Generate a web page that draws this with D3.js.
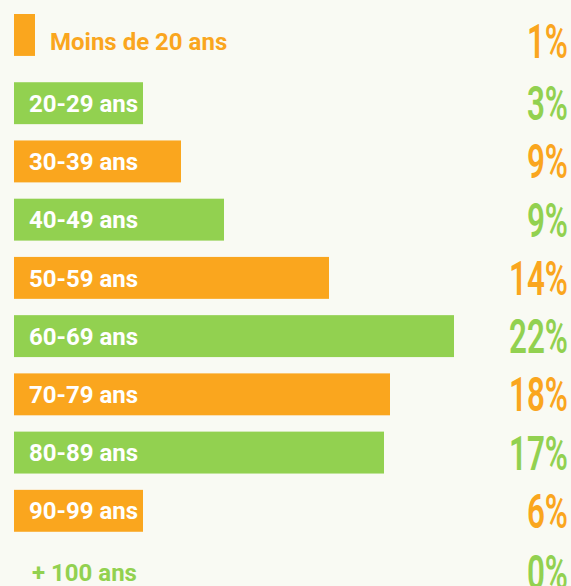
<!DOCTYPE html>
<html>
<head>
<meta charset="utf-8">
<script src="https://cdn.jsdelivr.net/npm/d3@7"></script>
<style>
    html, body { margin: 0; padding: 0; background: #f9faf3; }
    svg { display: block; }
</style>
</head>
<body>
<script>
// age groups, top to bottom
let categories = ["Moins de 20 ans", "20-29 ans", "30-39 ans", "40-49 ans", "50-59 ans",
    "60-69 ans", "70-79 ans", "80-89 ans", "90-99 ans", "+ 100 ans"];

// share printed on the right (%)
let shares = [1, 3, 9, 9, 14, 22, 18, 17, 6, 0];

// bar lengths as drawn in the original, in the same % units (not strictly proportional to the labels)
let barLengths = [1.05, 6.45, 8.35, 10.5, 15.75, 22, 18.8, 18.5, 6.45, 0];

let palette = ["#faa61e", "#92d150"];

let width = 571, height = 586;

let svg = d3.select("body").append("svg")
    .attr("width", width)
    .attr("height", height);

svg.append("rect")
    .attr("width", width)
    .attr("height", height)
    .style("fill", "#f9faf3");

let y = d3.scaleBand()
    .domain(categories)
    .range([24, 590])
    .paddingInner(0.28)
    .paddingOuter(0);

let x = d3.scaleLinear()
    .domain([0, 22])
    .range([14, 454]);

let rows = categories.map((c, i) => ({
    cat: c,
    share: shares[i],
    len: barLengths[i],
    color: palette[i % 2],
    // the first row sits a little higher in the original, the last a little lower
    nudge: i === 0 ? -4 : (i === categories.length - 1 ? 3 : 0),
    barNudge: i === 0 ? -10 : 0
}));

let mid = d => y(d.cat) + y.bandwidth() / 2 + d.nudge;

// bars
svg.selectAll("rect.bar")
    .data(rows.filter(d => d.len > 0))
    .enter()
    .append("rect")
    .attr("class", "bar")
    .attr("x", x(0))
    .attr("y", d => y(d.cat) + d.barNudge)
    .attr("width", d => x(d.len) - x(0))
    .attr("height", y.bandwidth())
    .style("fill", d => d.color);

// age labels: inside the bar when it is long enough, otherwise after it in the bar colour
svg.selectAll("text.age")
    .data(rows)
    .enter()
    .append("text")
    .attr("class", "age")
    .attr("x", d => {
        let inside = x(d.len) - x(0) > 100;
        return inside ? 29 : Math.max(32, x(d.len) + 15);
    })
    .attr("y", mid)
    .attr("dy", "0.36em")
    .style("font-family", "Roboto, 'Liberation Sans', sans-serif")
    .style("font-weight", 700)
    .style("font-size", "24px")
    .style("fill", d => (x(d.len) - x(0) > 100) ? "#ffffff" : d.color)
    .text(d => d.cat);

// percentages on the right, condensed
svg.selectAll("text.pct")
    .data(rows)
    .enter()
    .append("text")
    .attr("class", "pct")
    .attr("transform", d => `translate(568, ${mid(d) + 17}) scale(0.64, 1)`)
    .attr("text-anchor", "end")
    .style("font-family", "Roboto, 'Liberation Sans', sans-serif")
    .style("font-weight", 600)
    .style("font-size", "49px")
    .style("fill", d => d.color)
    .text(d => d3.format("d")(d.share) + "%");
</script>
</body>
</html>
